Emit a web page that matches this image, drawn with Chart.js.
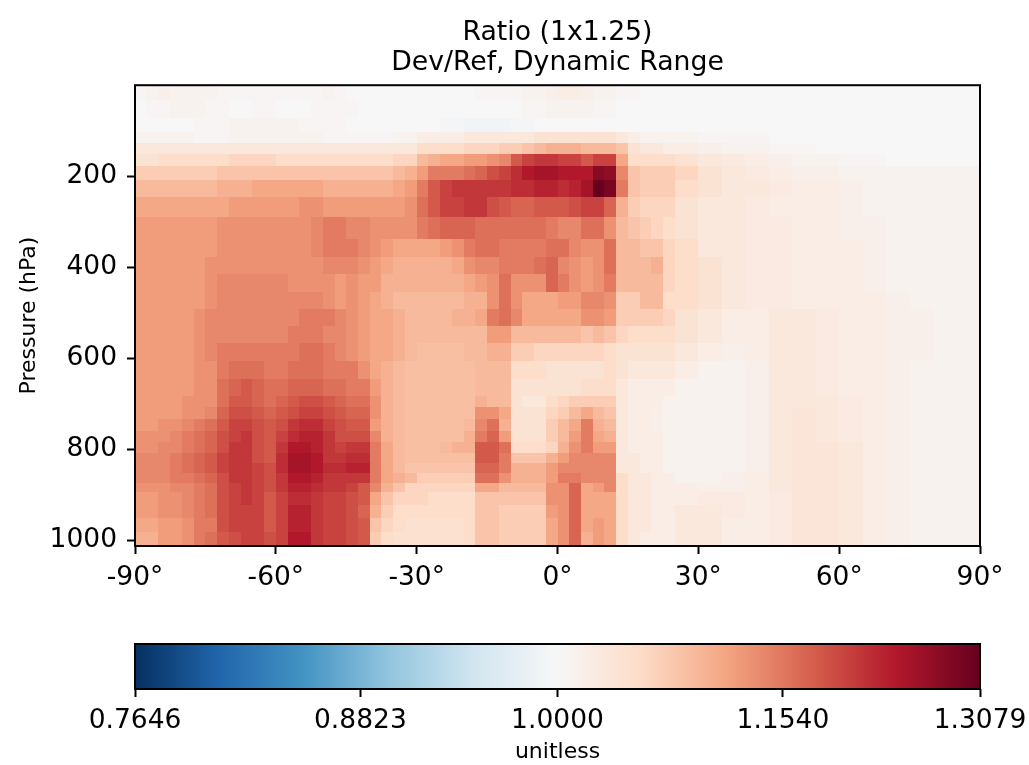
<!DOCTYPE html>
<html>
<head>
<meta charset="utf-8">
<script src="https://cdn.jsdelivr.net/npm/chart.js@4"></script>
<style>
  html, body { margin: 0; padding: 0; background: #fff; }
  .wrap { position: absolute; left: 0; width: 1029px; }
  canvas { display: block; }
</style>
</head>
<body>
<div class="wrap" style="top:0;height:610px"><canvas id="myChart"></canvas></div>
<div class="wrap" style="top:610px;height:155px"><canvas id="myBar"></canvas></div>
<script>
// left edge of each latitude column, last entry closes the grid
const latEdges = [-90,-87.5,-85,-82.5,-80,-77.5,-75,-72.5,-70,-67.5,-65,-62.5,
  -60,-57.5,-55,-52.5,-50,-47.5,-45,-42.5,-40,-37.5,-35,-32.5,-30,-27.5,-25,-22.5,-20,-17.5,-15,-12.5,
  -10,-7.5,-5,-2.5,0,2.5,5,7.5,10,12.5,15,17.5,20,22.5,
  25,30,35,40,45,50,55,60,65,70,75,80,85,90];
// pressure level edges (hPa)
const pressureEdges = [0,33,73,103,127,152,178,209,246,290,338,378,415,455,492,530,567,607,646,684,708,734,760,785,809,831,853,875,895,923,952,982,1013];
// Dev/Ref ratio as percent above 1, one row per pressure level
const ratioPct = [
[.5,1,1.5,1,1,1,1,.5,.5,.5,.5,.5, .5,.5,.5,.5,1,.5,0,0,0,0,0,0,0,0,0,0,0,.5,.5,.5,.5,1,1,1.5,2,2,1.5,1,1,.5,.5,0,0,0, 0,0,0,0,0,0,0,0,0,0,0,0,0],
[0,.5,.5,1,1,1,.5,.5,0,0,.5,.5, 0,0,0,.5,.5,.5,.5,0,0,0,0,0,0,0,0,0,0,0,0,0,0,.5,.5,1,1,1,1,.5,.5,0,0,0,0,0, 0,0,0,0,0,0,0,0,0,0,0,0,0],
[0,0,0,0,0,.5,.5,.5,1,1,1,1, 1,1,.5,.5,.5,.5,0,0,0,0,0,0,0,0,-.5,-.5,-1,-1,-1,-1,-.5,-.5,0,0,0,0,0,0,0,0,0,0,0,0, 0,0,0,0,0,0,0,0,0,0,0,0,0],
[1,1,1,1,1,.5,.5,.5,1,1,1,1, 1,1,1,1,.5,.5,.5,.5,.5,.5,1,1,2,2,2,2,3,3,3,3,3,3,4,4,4,4,4,4,4,3,2,1,1,1, 1,.5,.5,.5,0,0,0,0,0,0,0,0,0],
[3,3,3,3,3,3,3,3,3,3,3,3, 3,3,3,3,3,3,3,3,3,3,3,3,5,5,5,5,6,6,6,7,7,8,9,10,10,10,9,9,9,8,4,3,3,2, 2,1.5,1,1,.5,.5,0,0,0,0,0,0,0],
[4,4,5,5,5,5,5,5,6,6,6,6, 5,5,5,5,5,5,5,5,5,5,6,6,9,10,11,11,12,12,13,14,18,20,21,21,20,20,18,20,20,11,5,5,5,5, 4,3,2.5,2,1.5,1,1,.5,.5,0,0,0,0],
[7,7,7,7,7,7,7,8,8,8,8,8, 8,8,8,8,8,8,8,8,8,8,9,10,12,15,15,15,16,17,19,20,22,24,25,25,24,24,24,28,27,14,8,7,7,7, 6,4,3,2.5,2,1.5,1.5,1,1,1,1,1,1],
[9,9,9,9,9,9,9,10,10,10,11,11, 11,11,11,11,10,10,10,10,10,10,11,12,15,18,20,21,21,21,21,21,22,22,23,23,22,23,25,31,29,15,8,7,7,7, 5,4,3,3,2.5,2,2,1.5,1,1,1,1,1],
[11,11,11,11,11,11,11,11,12,12,12,12, 12,12,13,13,12,12,12,12,12,12,12,13,16,18,20,20,21,21,19,18,17,17,18,18,18,19,20,20,17,10,7,6,6,6, 4,3,3,2.5,2,2,2,1.5,1,1,1,1,1],
[12,12,12,12,12,12,12,13,13,13,13,13, 13,13,13,14,15,15,14,14,13,13,13,13,15,16,17,17,17,16,16,16,16,16,16,15,14,14,16,16,13,9,8,7,6,5, 4,3,3,2.5,2.5,2,2,1.5,1.5,1,1,1,1],
[12,12,12,12,12,12,12,13,13,13,13,13, 13,13,13,14,15,15,15,14,13,12,11,11,11,11,12,13,15,16,16,15,15,15,15,16,16,14,13,13,16,9,9,8,8,6, 5,3,3,2.5,2.5,2,2,2,1.5,1,1,1,1],
[12,12,12,12,12,12,13,13,13,13,13,13, 13,13,13,13,14,14,14,13,12,11,10,10,10,10,10,11,13,14,14,15,15,15,16,17,14,13,12,13,16,9,9,9,10,6, 5,4,3,2.5,2.5,2,2,2,1.5,1,1,1,1],
[12,12,12,12,12,12,13,14,14,14,14,14, 14,13,13,13,13,12,13,12,12,10,10,10,10,10,10,10,11,12,13,16,13,13,13,17,15,13,12,13,15,9,9,9,9,6, 5,4,3,2.5,2.5,2,2,2,1.5,1,1,1,1],
[12,12,12,12,12,12,13,14,14,14,14,14, 14,14,14,14,13,12,13,12,11,10,9,9,9,9,9,9,10,10,13,16,13,11,11,11,12,12,14,14,13,7,7,9,9,5, 5,4,3,2.5,2.5,2,2,2,2,1.5,1,1,1],
[12,12,12,12,12,13,14,14,14,14,14,14, 14,14,15,15,15,14,13,12,11,11,10,9,9,9,9,10,10,11,15,16,14,11,11,11,11,11,13,13,12,7,7,7,7,6, 4,3,2,2,3,3,2.5,2,2,1.5,1.5,1,1],
[12,12,12,12,12,13,14,14,14,14,14,14, 14,15,15,15,14,14,13,12,11,11,10,9,9,9,9,9,9,9,12,12,9,9,9,9,9,9,8,9,8,6,5,5,5,5, 4,3,2,2,3,3,2.5,2,2,1.5,1.5,1,1],
[12,12,12,12,12,13,14,15,15,15,15,15, 15,15,16,16,15,14,13,12,11,11,10,9,8.5,8.5,8.5,8.5,9,9,10,10,7,7,6,6,6,6,6,6,5,4,4,4,4,4, 3,2,1.5,2,3,3,2.5,2,2,1.5,1.5,1,1],
[12,12,12,12,12,13,13,15,16,16,16,15, 15,16,16,16,15,15,15,13,11,10,9,8.5,8.5,8.5,8.5,8.5,8.5,9,9,9,5,5,5,4,4,4,4,4,5,4,3,3,3,3, 2,1,1,1.5,3,3,2.5,2,2,1.5,1,1,1],
[12,12,12,12,12,13,13,16,17,18,17,16, 16,17,17,17,16,16,15,15,12,10,9,8.5,8.5,8.5,8.5,8.5,8.5,9,9,9,4,4,4,4,4,4,5,5,5,3,2,2,2,2, 1,1,1,1.5,3,3,2.5,2,2,1.5,1,1,1],
[12,12,12,12,13,13,13,16,18,18,17,16, 17,18,19,19,18,17,16,16,13,10,9,8.5,8.5,8.5,8.5,8.5,8.5,10,9,9,4,3,3,5,6,7,7,7,7,3,2,2,2,1, 1,1,1,1.5,3,3,3,2.5,2,1.5,1,1,1],
[12,12,12,12,13,13,14,17,19,19,18,17, 18,19,20,20,19,18,17,17,13,10,9,8.5,8.5,8.5,8.5,8.5,8.5,13,13,11,4,4,4,6,7,9,11,9,8,3,2,2,1.5,1, 1,1,1,1.5,3,3.5,3,2.5,2,1.5,1,1,1],
[12,12,13,13,14,15,16,18,20,20,19,18, 19,21,22,22,20,19,18,18,12,10,9,8.5,8.5,8.5,8.5,8.5,9,14,16,10,4,4,4,7,9,11,15,10,9,3,2,2,1.5,1, 1,1,1,1.5,3,3.5,3,2.5,2,1.5,1,1,1],
[13,13,13,14,15,16,17,19,20,21,19,18, 20,22,23,23,21,19,19,19,14,10,9,8.5,8.5,8.5,8.5,8.5,10,15,17,12,4,4,4,7,9,12,15,11,10,3,2,2,2,1, 1,1,1,1.5,3,3.5,3,2.5,2,1.5,1,1,1],
[13,13,14,14,15,16,17,19,21,21,19,18, 21,24,24,23,21,20,21,21,15,11,9,8.5,8.5,8.5,9,10,10,18,18,16,5,5,5,6,10,13,15,12,12,3,2,2,2,1, 1,1,1,1.5,3,3.5,3.5,3,2,1.5,1,1,1],
[14,14,14,15,16,17,18,20,21,21,19,18, 22,25,25,24,21,21,22,22,15,11,9,8.5,8.5,8.5,8.5,8.5,8.5,18,18,15,8,8,8,10,12,14,14,14,14,3,3,2,2,1, 1,1,1,1.5,3,3.5,3.5,3,2,1.5,1,1,1],
[14,14,14,15,16,17,18,20,21,21,20,19, 22,25,25,24,22,22,23,23,15,11,9,8,8,8,8,8,8,17,17,15,10,10,10,12,14,14,14,14,14,3,3,2,2,1, 1,1,1,1.5,3,3.5,3.5,3,2,1.5,1,1,1],
[14,14,14,15,15,16,17,19,21,21,20,19, 21,24,24,23,21,21,21,21,15,11,10,9,7,7,7,7,7,16,16,13,10,10,10,12,15,15,14,14,14,5,3,3,2,2, 1,1,1.5,2,3,3.5,3.5,3,2,1.5,1,1,1],
[13,13,13,14,14,15,16,19,20,21,20,19, 21,23,23,22,21,21,20,18,14,10,8,6,6,6,6,6,6,11,11,9,9,9,9,13,13,17,11,12,14,5,3,3,2,2, 2,1.5,1.5,2,3,3.5,3.5,3,2,1.5,1,1,1],
[12,12,13,13,14,15,16,19,20,21,20,18, 20,22,22,21,20,20,19,18,11,8,6,6,6,5,5,5,5,8,8,8,8,8,8,13,13,17,11,11,11,5,3,3,2,2, 2,2.5,2.5,2,2.5,3.5,3.5,3,2,1.5,1,1,1],
[12,12,13,13,14,15,16,19,20,20,20,18, 20,23,23,21,20,20,19,17,10,7,5,5,5,5,5,5,5,8,8,7,7,7,7,12,13,17,11,11,11,5,3,3,2,2, 3,3,2.5,2,2.5,3.5,3.5,3,2,1.5,1,1,1],
[11,11,12,12,13,15,15,19,20,20,20,18, 20,23,23,21,20,20,19,18,8,6,5,4.5,4.5,4.5,4.5,4.5,5,8,8,7,7,7,7,11,13,17,11,12,11,5,3,3,2,2, 3,3,2,2,2.5,3.5,3.5,3,2,1.5,1,1,1],
[10,10,12,12,13,15,16,18,19,20,20,19, 20,24,24,21,20,20,19,18,7,5,4.5,4.5,4.5,4.5,4.5,4.5,5,8,8,7,7,7,7,11,13,17,10,12,11,5,3,2,2,2, 3,3,2,2,2.5,3.5,3.5,3,2,1.5,1,1,1]
];
const latTicks = [-90,-60,-30,0,30,60,90];
const pressureTicks = [200,400,600,800,1000];
const barTicks = [0.7646,0.8823,1.0,1.154,1.3079];
const titleLines = ['Ratio (1x1.25)','Dev/Ref, Dynamic Range'];
// RdBu_r stops
const cmapColors = [[5,48,97],[33,102,172],[67,147,195],[146,197,222],[209,229,240],[247,247,247],[253,219,199],[244,165,130],[214,96,77],[178,24,43],[103,0,31]];

const vmin = 0.7646, vmax = 1.3079;
const FONT = 'DejaVu Sans';

function colorFor(v) {
  // log norm, like the colorbar
  let t = (Math.log(v) - Math.log(vmin)) / (Math.log(vmax) - Math.log(vmin));
  t = Math.max(0, Math.min(1, t)) * (cmapColors.length - 1);
  const i = Math.min(Math.floor(t), cmapColors.length - 2);
  const f = t - i;
  const a = cmapColors[i], b = cmapColors[i + 1];
  return 'rgb(' + [0,1,2].map(k => Math.round(a[k] + (b[k] - a[k]) * f)).join(',') + ')';
}

const cells = [];
ratioPct.forEach((row, r) => {
  row.forEach((pct, c) => {
    cells.push({
      x: (latEdges[c] + latEdges[c + 1]) / 2,
      y: (pressureEdges[r] + pressureEdges[r + 1]) / 2,
      c: c, r: r, v: 1 + pct / 100
    });
  });
});

const frame = {
  id: 'frame',
  afterDraw(chart) {
    const a = chart.chartArea, ctx = chart.ctx;
    ctx.save();
    ctx.strokeStyle = '#000';
    ctx.lineWidth = 2;
    ctx.strokeRect(a.left, a.top, a.right - a.left, a.bottom - a.top);
    ctx.restore();
  }
};

const heatmap = {
  id: 'heatmap',
  beforeDatasetsDraw(chart) {
    const ctx = chart.ctx, xs = chart.scales.x, ys = chart.scales.y;
    ctx.save();
    cells.forEach(d => {
      const x0 = Math.round(xs.getPixelForValue(latEdges[d.c]));
      const x1 = Math.round(xs.getPixelForValue(latEdges[d.c + 1]));
      const y0 = Math.round(ys.getPixelForValue(pressureEdges[d.r]));
      const y1 = Math.round(ys.getPixelForValue(pressureEdges[d.r + 1]));
      ctx.fillStyle = colorFor(d.v);
      ctx.fillRect(x0, y0, x1 - x0, y1 - y0);
    });
    ctx.restore();
  }
};

const gradientBar = {
  id: 'gradientBar',
  beforeDatasetsDraw(chart) {
    const ctx = chart.ctx, xs = chart.scales.x, a = chart.chartArea;
    const x0 = xs.getPixelForValue(vmin), x1 = xs.getPixelForValue(vmax);
    const g = ctx.createLinearGradient(x0, 0, x1, 0);
    cmapColors.forEach((c, i) => g.addColorStop(i / (cmapColors.length - 1), 'rgb(' + c.join(',') + ')'));
    ctx.save();
    ctx.fillStyle = g;
    ctx.fillRect(x0, a.top, x1 - x0, a.bottom - a.top);
    ctx.restore();
  }
};

const tickFont = { family: FONT, size: 26.5 };
const gridOpts = { display: true, drawOnChartArea: false, tickLength: 8, tickWidth: 2, tickColor: '#000' };

new Chart(document.getElementById('myChart').getContext('2d'), {
  type: 'scatter',
  data: { datasets: [{ data: cells, pointRadius: 0, label: 'Ratio' }] },
  plugins: [heatmap, frame],
  options: {
    responsive: true,
    maintainAspectRatio: false,
    animation: false,
    events: [],
    layout: { padding: { right: 49 } },
    plugins: {
      legend: { display: false },
      tooltip: { enabled: false },
      title: {
        display: true,
        fullSize: false,
        text: titleLines,
        color: '#000',
        font: { family: FONT, size: 26.7, weight: 'normal', lineHeight: 1.09 },
        padding: { top: 19, bottom: 8 }
      }
    },
    scales: {
      x: {
        type: 'linear', min: -90, max: 90,
        afterBuildTicks(s) { s.ticks = latTicks.map(v => ({ value: v })); },
        afterFit(s) { s.height = 64; },
        grid: gridOpts,
        border: { display: false },
        ticks: { color: '#000', font: tickFont, maxRotation: 0, padding: 8, callback: v => v + '°' }
      },
      y: {
        type: 'linear', reverse: true, min: 0, max: 1013,
        afterBuildTicks(s) { s.ticks = pressureTicks.map(v => ({ value: v })); },
        afterFit(s) { s.width = 135; },
        grid: gridOpts,
        border: { display: false },
        ticks: { color: '#000', font: tickFont, padding: 10, callback: v => String(v) },
        title: { display: true, text: 'Pressure (hPa)', color: '#000', font: { family: FONT, size: 22 }, padding: { top: 16, bottom: 0 } }
      }
    }
  }
});

new Chart(document.getElementById('myBar').getContext('2d'), {
  type: 'scatter',
  data: { datasets: [{ data: barTicks.map(v => ({ x: v, y: 0 })), pointRadius: 0, label: 'unitless' }] },
  plugins: [gradientBar, frame],
  options: {
    responsive: true,
    maintainAspectRatio: false,
    animation: false,
    events: [],
    layout: { padding: { left: 135, right: 49, top: 34 } },
    plugins: { legend: { display: false }, tooltip: { enabled: false }, title: { display: false } },
    scales: {
      x: {
        type: 'logarithmic', min: vmin, max: vmax,
        afterBuildTicks(s) { s.ticks = barTicks.map(v => ({ value: v })); },
        // end labels stick out past the bar, keep the bar the full plot width
        afterFit(s) { s.height = 76; s.paddingLeft = 0; s.paddingRight = 0; },
        grid: gridOpts,
        border: { display: false },
        ticks: { color: '#000', font: tickFont, maxRotation: 0, autoSkip: false, padding: 8, callback: v => Number(v).toFixed(4) },
        title: { display: true, text: 'unitless', color: '#000', font: { family: FONT, size: 22 }, padding: { top: 2, bottom: 0 } }
      },
      y: { display: false, min: -1, max: 1 }
    }
  }
});
</script>
</body>
</html>
